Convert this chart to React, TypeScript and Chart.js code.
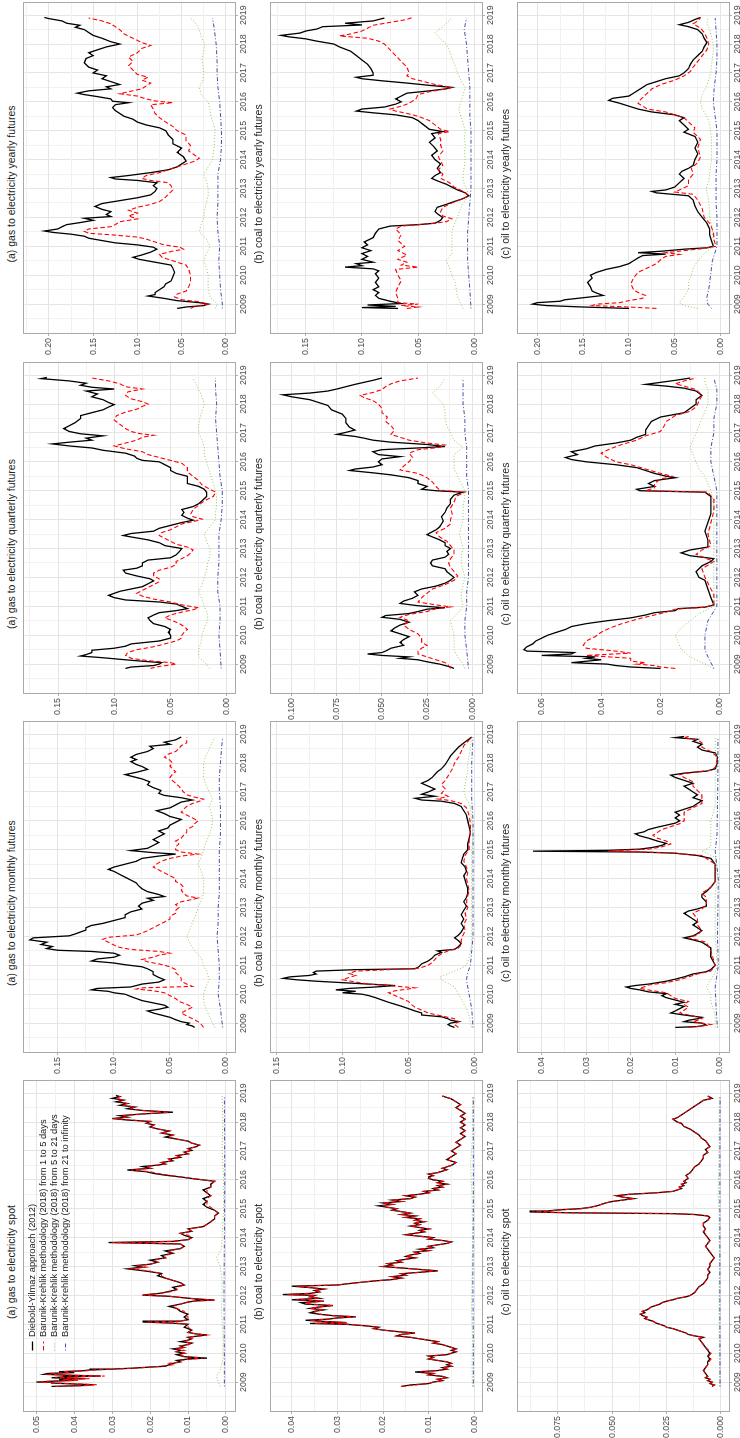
import React, { useEffect, useRef } from "react";
import { Chart, registerables } from "chart.js";
Chart.register(...registerables);

type P = [number, number];
type R3 = [number, number, number];

// ---------------- axis / labels ----------------
const YEARS = [2009, 2010, 2011, 2012, 2013, 2014, 2015, 2016, 2017, 2018, 2019];
const TIME_MIN = 2008.0;
const TIME_MAX = 2019.42;

const SERIES_NAMES = [
  "Diebold-Yilmaz approach (2012)",
  "Barunik-Krehlik methodology (2018) from 1 to 5 days",
  "Barunik-Krehlik methodology (2018) from 5 to 21 days",
  "Barunik-Krehlik methodology (2018) from 21 to infinity",
];
const SERIES_COLORS = ["#000000", "#ff0000", "#86c44a", "#2e3c9e"];
const SERIES_WIDTHS = [1.3, 1.1, 0.9, 0.9];
const SERIES_DASHES: number[][] = [[], [4.5, 2.5], [1, 2], [1, 2, 4, 2]];

const TICKS_GAS_SPOT = [0, 0.01, 0.02, 0.03, 0.04, 0.05];
const TICKS_COAL_SPOT = [0, 0.01, 0.02, 0.03, 0.04];
const TICKS_OIL_SPOT = [0, 0.025, 0.05, 0.075];
const TICKS_GAS_MONTHLY = [0, 0.05, 0.1, 0.15];
const TICKS_COAL_MONTHLY = [0, 0.05, 0.1, 0.15];
const TICKS_OIL_MONTHLY = [0, 0.01, 0.02, 0.03, 0.04];
const TICKS_GAS_QUARTERLY = [0, 0.05, 0.1, 0.15];
const TICKS_COAL_QUARTERLY = [0, 0.025, 0.05, 0.075, 0.1];
const TICKS_OIL_QUARTERLY = [0, 0.02, 0.04, 0.06];
const TICKS_GAS_YEARLY = [0, 0.05, 0.1, 0.15, 0.2];
const TICKS_COAL_YEARLY = [0, 0.05, 0.1, 0.15];
const TICKS_OIL_YEARLY = [0, 0.05, 0.1, 0.15, 0.2];

// ---------------- SPOT (rows: time, Diebold-Yilmaz, BK 1-5 days) ----------------
const gasSpotRows: R3[] = [
  [2008.85,0.046,0.045],[2008.88,0.038,0.037],[2008.91,0.035,0.034],[2008.94,0.041,0.04],[2008.97,0.046,0.045],
  [2009.0,0.05,0.049],[2009.03,0.046,0.047],[2009.06,0.04,0.039],[2009.09,0.044,0.043],[2009.12,0.037,0.036],
  [2009.15,0.046,0.045],[2009.18,0.043,0.041],[2009.21,0.033,0.032],[2009.24,0.042,0.041],[2009.27,0.048,0.047],
  [2009.3,0.047,0.046],[2009.33,0.04,0.041],[2009.36,0.044,0.043],[2009.39,0.038,0.037],[2009.42,0.036,0.035],
  [2009.45,0.03,0.03],[2009.48,0.025,0.024],[2009.52,0.02,0.02],[2009.55,0.016,0.017],[2009.6,0.015,0.014],
  [2009.65,0.014,0.015],[2009.7,0.012,0.012],[2009.75,0.013,0.012],[2009.8,0.01,0.009],[2009.83,0.005,0.006],
  [2009.88,0.011,0.011],[2009.95,0.013,0.012],[2010.0,0.011,0.011],[2010.05,0.013,0.013],[2010.1,0.012,0.011],
  [2010.15,0.014,0.013],[2010.2,0.011,0.011],[2010.25,0.012,0.012],[2010.3,0.01,0.01],[2010.35,0.009,0.009],
  [2010.4,0.012,0.011],[2010.45,0.01,0.01],[2010.5,0.009,0.009],[2010.55,0.01,0.01],[2010.6,0.007,0.007],
  [2010.63,0.005,0.005],[2010.67,0.008,0.008],[2010.72,0.01,0.01],[2010.8,0.009,0.009],[2010.9,0.011,0.01],
  [2011.0,0.01,0.01],[2011.04,0.014,0.013],[2011.08,0.022,0.021],[2011.11,0.012,0.012],[2011.16,0.01,0.01],
  [2011.25,0.011,0.01],[2011.35,0.01,0.011],[2011.45,0.012,0.011],[2011.55,0.013,0.013],[2011.62,0.015,0.014],
  [2011.7,0.012,0.012],[2011.77,0.01,0.01],[2011.81,0.008,0.008],[2011.84,0.003,0.003],[2011.88,0.008,0.008],
  [2011.93,0.012,0.012],[2011.97,0.015,0.015],[2012.01,0.022,0.022],[2012.04,0.02,0.019],[2012.08,0.017,0.017],
  [2012.14,0.015,0.014],[2012.2,0.013,0.013],[2012.28,0.014,0.013],[2012.36,0.011,0.011],[2012.44,0.012,0.012],
  [2012.52,0.014,0.014],[2012.6,0.016,0.016],[2012.68,0.018,0.017],[2012.76,0.017,0.017],[2012.84,0.021,0.02],
  [2012.92,0.026,0.025],[2012.98,0.022,0.021],[2013.03,0.024,0.023],[2013.08,0.02,0.02],[2013.15,0.018,0.018],
  [2013.22,0.02,0.019],[2013.3,0.016,0.016],[2013.38,0.017,0.016],[2013.46,0.014,0.014],[2013.54,0.016,0.015],
  [2013.62,0.012,0.012],[2013.7,0.011,0.011],[2013.78,0.012,0.012],[2013.83,0.031,0.03],[2013.87,0.014,0.014],
  [2013.93,0.01,0.01],[2014.0,0.009,0.009],[2014.08,0.011,0.01],[2014.15,0.012,0.012],[2014.22,0.009,0.009],
  [2014.3,0.01,0.01],[2014.38,0.006,0.006],[2014.46,0.005,0.005],[2014.55,0.004,0.004],[2014.65,0.003,0.003],
  [2014.75,0.003,0.003],[2014.85,0.002,0.002],[2014.95,0.003,0.003],[2015.05,0.005,0.004],[2015.15,0.006,0.005],
  [2015.25,0.005,0.005],[2015.35,0.006,0.005],[2015.45,0.004,0.004],[2015.55,0.005,0.005],[2015.65,0.006,0.005],
  [2015.75,0.004,0.004],[2015.85,0.004,0.004],[2015.95,0.003,0.003],[2016.03,0.008,0.008],[2016.1,0.012,0.012],
  [2016.16,0.016,0.015],[2016.22,0.019,0.018],[2016.28,0.021,0.02],[2016.34,0.026,0.025],[2016.4,0.02,0.02],
  [2016.46,0.022,0.021],[2016.51,0.018,0.018],[2016.55,0.016,0.016],[2016.6,0.017,0.017],[2016.66,0.014,0.014],
  [2016.72,0.015,0.015],[2016.78,0.012,0.012],[2016.84,0.013,0.013],[2016.9,0.01,0.01],[2016.96,0.011,0.011],
  [2017.02,0.009,0.009],[2017.08,0.01,0.01],[2017.14,0.008,0.008],[2017.2,0.007,0.007],[2017.27,0.009,0.009],
  [2017.34,0.01,0.01],[2017.41,0.013,0.013],[2017.48,0.016,0.015],[2017.55,0.014,0.014],[2017.62,0.017,0.017],
  [2017.69,0.015,0.015],[2017.76,0.018,0.018],[2017.83,0.02,0.02],[2017.9,0.019,0.019],[2017.96,0.021,0.021],
  [2018.02,0.02,0.02],[2018.07,0.026,0.025],[2018.12,0.03,0.029],[2018.17,0.026,0.026],[2018.22,0.028,0.027],
  [2018.28,0.022,0.022],[2018.34,0.014,0.015],[2018.4,0.022,0.022],[2018.46,0.026,0.025],[2018.52,0.024,0.024],
  [2018.58,0.028,0.027],[2018.64,0.026,0.026],[2018.7,0.029,0.028],[2018.76,0.027,0.027],[2018.82,0.03,0.029],
  [2018.88,0.028,0.028],[2018.92,0.029,0.029],
];
const gasSpotBK2: P[] = [[2008.85,0.0015],[2009.0,0.002],[2009.2,0.0025],[2009.4,0.0015],[2009.8,0.0008],[2010.5,0.0007],[2011.5,0.0012],[2012.0,0.001],[2012.5,0.001],[2013.0,0.0015],[2013.3,0.0025],[2013.6,0.0012],[2014.0,0.001],[2015.0,0.0006],[2016.0,0.0006],[2017.0,0.001],[2018.0,0.0008],[2018.9,0.001]];
const gasSpotBK3: P[] = [[2008.85,0.0004],[2010.0,0.0004],[2012.0,0.0005],[2014.0,0.0004],[2016.0,0.0003],[2018.9,0.0004]];

const coalSpotRows: R3[] = [
  [2008.85,0.016,0.016],[2008.9,0.014,0.013],[2008.95,0.01,0.01],[2009.0,0.009,0.009],[2009.05,0.007,0.007],
  [2009.1,0.008,0.008],[2009.15,0.006,0.006],[2009.2,0.007,0.007],[2009.25,0.01,0.01],[2009.3,0.009,0.009],
  [2009.35,0.013,0.012],[2009.4,0.008,0.008],[2009.45,0.006,0.006],[2009.5,0.007,0.007],[2009.55,0.005,0.005],
  [2009.6,0.006,0.006],[2009.65,0.005,0.005],[2009.7,0.006,0.006],[2009.75,0.008,0.008],[2009.8,0.01,0.01],
  [2009.85,0.009,0.009],[2009.9,0.01,0.01],[2009.95,0.006,0.006],[2010.0,0.005,0.005],[2010.05,0.004,0.004],
  [2010.1,0.005,0.005],[2010.15,0.004,0.004],[2010.2,0.005,0.005],[2010.25,0.006,0.006],[2010.3,0.007,0.007],
  [2010.35,0.009,0.009],[2010.4,0.008,0.008],[2010.45,0.01,0.01],[2010.5,0.012,0.012],[2010.55,0.014,0.014],
  [2010.6,0.017,0.017],[2010.65,0.016,0.016],[2010.7,0.013,0.013],[2010.75,0.017,0.017],[2010.8,0.02,0.02],
  [2010.85,0.022,0.022],[2010.9,0.021,0.021],[2010.95,0.024,0.024],[2011.0,0.028,0.027],[2011.03,0.036,0.035],
  [2011.06,0.028,0.028],[2011.1,0.033,0.033],[2011.14,0.037,0.036],[2011.18,0.032,0.032],[2011.22,0.03,0.03],
  [2011.26,0.026,0.026],[2011.3,0.031,0.031],[2011.35,0.034,0.034],[2011.4,0.036,0.035],[2011.45,0.035,0.035],
  [2011.5,0.033,0.033],[2011.55,0.036,0.036],[2011.6,0.034,0.034],[2011.65,0.031,0.031],[2011.7,0.037,0.036],
  [2011.75,0.038,0.037],[2011.8,0.033,0.033],[2011.85,0.04,0.039],[2011.9,0.034,0.034],[2011.95,0.036,0.036],
  [2012.0,0.035,0.035],[2012.03,0.042,0.041],[2012.07,0.036,0.036],[2012.12,0.034,0.034],[2012.17,0.035,0.035],
  [2012.22,0.033,0.033],[2012.27,0.036,0.036],[2012.32,0.04,0.039],[2012.36,0.03,0.03],[2012.4,0.028,0.028],
  [2012.45,0.025,0.025],[2012.5,0.022,0.022],[2012.55,0.018,0.018],[2012.6,0.016,0.016],[2012.65,0.018,0.018],
  [2012.7,0.015,0.015],[2012.75,0.016,0.016],[2012.8,0.012,0.012],[2012.85,0.008,0.008],[2012.9,0.012,0.012],
  [2012.95,0.016,0.016],[2013.0,0.02,0.02],[2013.05,0.018,0.018],[2013.1,0.019,0.019],[2013.15,0.016,0.016],
  [2013.2,0.017,0.017],[2013.25,0.015,0.015],[2013.3,0.013,0.013],[2013.35,0.015,0.015],[2013.4,0.014,0.014],
  [2013.45,0.012,0.012],[2013.5,0.013,0.013],[2013.55,0.01,0.01],[2013.6,0.012,0.012],[2013.65,0.009,0.009],
  [2013.7,0.01,0.01],[2013.75,0.008,0.008],[2013.8,0.006,0.006],[2013.85,0.005,0.005],[2013.9,0.007,0.007],
  [2013.95,0.01,0.01],[2014.0,0.009,0.009],[2014.05,0.012,0.012],[2014.1,0.015,0.015],[2014.15,0.013,0.013],
  [2014.2,0.011,0.011],[2014.25,0.012,0.012],[2014.3,0.01,0.01],[2014.35,0.012,0.012],[2014.4,0.014,0.014],
  [2014.45,0.012,0.012],[2014.5,0.013,0.013],[2014.55,0.011,0.011],[2014.6,0.013,0.013],[2014.65,0.012,0.012],
  [2014.7,0.015,0.015],[2014.75,0.013,0.013],[2014.8,0.016,0.016],[2014.85,0.014,0.014],[2014.9,0.016,0.016],
  [2014.95,0.018,0.018],[2015.0,0.017,0.017],[2015.05,0.019,0.019],[2015.1,0.021,0.02],[2015.15,0.018,0.018],
  [2015.2,0.02,0.02],[2015.25,0.016,0.016],[2015.3,0.018,0.018],[2015.35,0.014,0.014],[2015.4,0.013,0.013],
  [2015.45,0.015,0.015],[2015.5,0.012,0.012],[2015.55,0.01,0.01],[2015.6,0.011,0.011],[2015.65,0.008,0.008],
  [2015.7,0.009,0.009],[2015.75,0.007,0.007],[2015.8,0.008,0.008],[2015.85,0.006,0.006],[2015.9,0.008,0.008],
  [2015.95,0.007,0.007],[2016.0,0.009,0.009],[2016.05,0.01,0.01],[2016.1,0.01,0.009],[2016.15,0.009,0.009],
  [2016.2,0.01,0.01],[2016.25,0.008,0.008],[2016.3,0.007,0.007],[2016.35,0.006,0.006],[2016.4,0.007,0.007],
  [2016.45,0.006,0.006],[2016.5,0.005,0.005],[2016.6,0.004,0.004],[2016.7,0.006,0.006],[2016.8,0.005,0.005],
  [2016.9,0.004,0.004],[2017.0,0.005,0.005],[2017.1,0.004,0.004],[2017.2,0.003,0.003],[2017.3,0.004,0.004],
  [2017.4,0.003,0.003],[2017.5,0.002,0.002],[2017.6,0.003,0.003],[2017.7,0.002,0.002],[2017.8,0.003,0.003],
  [2017.9,0.002,0.002],[2018.0,0.003,0.003],[2018.1,0.002,0.002],[2018.2,0.003,0.003],[2018.3,0.002,0.002],
  [2018.4,0.003,0.003],[2018.5,0.004,0.004],[2018.6,0.003,0.003],[2018.7,0.004,0.004],[2018.8,0.005,0.005],
  [2018.85,0.006,0.006],[2018.9,0.007,0.007],
];
const coalSpotBK2: P[] = [[2008.85,0.0004],[2009.5,0.0005],[2010.5,0.0004],[2011.5,0.0006],[2012.5,0.0005],[2013.5,0.0004],[2014.5,0.0004],[2015.5,0.0005],[2016.5,0.0008],[2017.5,0.0004],[2018.9,0.0004]];
const coalSpotBK3: P[] = [[2008.85,0.0002],[2010.5,0.0002],[2012.5,0.0003],[2014.5,0.0002],[2016.5,0.0002],[2018.9,0.0002]];

const oilSpotRows: R3[] = [
  [2008.85,0.004,0.004],[2008.9,0.003,0.003],[2008.95,0.005,0.005],[2009.0,0.004,0.004],[2009.05,0.006,0.006],
  [2009.1,0.005,0.005],[2009.15,0.007,0.007],[2009.2,0.006,0.006],[2009.3,0.007,0.007],[2009.4,0.008,0.008],
  [2009.5,0.007,0.007],[2009.6,0.006,0.006],[2009.7,0.006,0.0055],[2009.8,0.005,0.0045],[2009.9,0.006,0.0055],
  [2010.0,0.005,0.0045],[2010.1,0.006,0.0055],[2010.2,0.007,0.007],[2010.3,0.008,0.008],[2010.4,0.009,0.009],
  [2010.5,0.01,0.01],[2010.55,0.008,0.008],[2010.6,0.012,0.012],[2010.65,0.015,0.015],[2010.7,0.016,0.016],
  [2010.75,0.018,0.018],[2010.8,0.02,0.02],[2010.85,0.022,0.022],[2010.9,0.025,0.025],[2010.95,0.026,0.026],
  [2011.0,0.028,0.028],[2011.05,0.03,0.03],[2011.1,0.031,0.031],[2011.15,0.033,0.033],[2011.2,0.035,0.035],
  [2011.25,0.034,0.034],[2011.3,0.036,0.036],[2011.35,0.037,0.037],[2011.4,0.035,0.035],[2011.45,0.036,0.036],
  [2011.5,0.034,0.034],[2011.55,0.033,0.033],[2011.6,0.032,0.032],[2011.65,0.03,0.03],[2011.7,0.028,0.028],
  [2011.75,0.027,0.027],[2011.8,0.025,0.025],[2011.85,0.022,0.022],[2011.9,0.02,0.02],[2011.95,0.016,0.016],
  [2012.0,0.014,0.014],[2012.1,0.012,0.012],[2012.2,0.011,0.011],[2012.3,0.01,0.01],[2012.4,0.008,0.008],
  [2012.5,0.007,0.007],[2012.6,0.006,0.006],[2012.7,0.006,0.006],[2012.8,0.005,0.005],[2012.9,0.006,0.006],
  [2013.0,0.005,0.005],[2013.1,0.005,0.005],[2013.2,0.004,0.004],[2013.3,0.003,0.003],[2013.4,0.004,0.004],
  [2013.5,0.005,0.005],[2013.6,0.006,0.006],[2013.7,0.007,0.007],[2013.8,0.006,0.006],[2013.9,0.005,0.005],
  [2014.0,0.006,0.006],[2014.1,0.007,0.007],[2014.2,0.008,0.008],[2014.3,0.007,0.007],[2014.4,0.008,0.008],
  [2014.5,0.008,0.008],[2014.6,0.006,0.006],[2014.7,0.005,0.005],[2014.75,0.006,0.006],[2014.8,0.012,0.012],
  [2014.83,0.022,0.021],[2014.86,0.07,0.068],[2014.89,0.088,0.087],[2014.92,0.08,0.079],[2014.96,0.075,0.074],
  [2015.0,0.065,0.064],[2015.05,0.06,0.06],[2015.1,0.057,0.057],[2015.15,0.055,0.055],[2015.2,0.053,0.053],
  [2015.25,0.05,0.05],[2015.3,0.045,0.045],[2015.35,0.04,0.04],[2015.4,0.045,0.045],[2015.45,0.048,0.048],
  [2015.5,0.042,0.042],[2015.55,0.03,0.03],[2015.6,0.022,0.022],[2015.65,0.02,0.02],[2015.7,0.018,0.018],
  [2015.75,0.019,0.019],[2015.8,0.017,0.017],[2015.85,0.018,0.018],[2015.9,0.016,0.016],[2015.95,0.017,0.017],
  [2016.05,0.015,0.015],[2016.15,0.016,0.016],[2016.25,0.014,0.014],[2016.35,0.013,0.013],[2016.45,0.012,0.012],
  [2016.55,0.01,0.01],[2016.65,0.009,0.009],[2016.75,0.008,0.008],[2016.85,0.008,0.008],[2016.95,0.006,0.006],
  [2017.05,0.007,0.007],[2017.15,0.005,0.005],[2017.25,0.006,0.006],[2017.35,0.007,0.007],[2017.45,0.009,0.009],
  [2017.55,0.01,0.01],[2017.65,0.012,0.012],[2017.75,0.014,0.014],[2017.85,0.017,0.017],[2017.95,0.018,0.018],
  [2018.0,0.02,0.02],[2018.05,0.021,0.021],[2018.1,0.022,0.022],[2018.15,0.02,0.02],[2018.25,0.018,0.018],
  [2018.35,0.016,0.016],[2018.45,0.014,0.014],[2018.55,0.012,0.012],[2018.65,0.01,0.01],[2018.75,0.008,0.008],
  [2018.82,0.004,0.004],[2018.9,0.006,0.006],
];
const oilSpotBK2: P[] = [[2008.85,0.0005],[2010.0,0.0006],[2011.5,0.0008],[2013.0,0.0006],[2014.9,0.0008],[2015.5,0.0012],[2016.5,0.0009],[2018.0,0.0007],[2018.9,0.0006]];
const oilSpotBK3: P[] = [[2008.85,0.0003],[2011.5,0.0004],[2014.9,0.0004],[2016.5,0.0004],[2018.9,0.0003]];

// ---------------- MONTHLY ----------------
const gasMonthlyDY: P[] = [[2008.85,0.028],[2008.9,0.03],[2008.95,0.035],[2009.0,0.033],[2009.05,0.04],[2009.12,0.045],[2009.2,0.05],[2009.28,0.058],[2009.35,0.065],[2009.42,0.07],[2009.48,0.06],[2009.55,0.052],[2009.62,0.055],[2009.7,0.065],[2009.78,0.075],[2009.85,0.08],[2009.92,0.085],[2010.0,0.09],[2010.05,0.1],[2010.1,0.105],[2010.15,0.12],[2010.2,0.115],[2010.25,0.085],[2010.3,0.08],[2010.35,0.075],[2010.42,0.06],[2010.5,0.055],[2010.58,0.06],[2010.68,0.065],[2010.78,0.065],[2010.88,0.07],[2010.95,0.075],[2011.02,0.09],[2011.08,0.1],[2011.15,0.12],[2011.22,0.115],[2011.28,0.1],[2011.35,0.095],[2011.42,0.1],[2011.48,0.12],[2011.52,0.15],[2011.58,0.16],[2011.65,0.155],[2011.72,0.165],[2011.8,0.16],[2011.88,0.175],[2011.95,0.172],[2012.02,0.14],[2012.08,0.135],[2012.15,0.13],[2012.22,0.125],[2012.3,0.125],[2012.38,0.12],[2012.45,0.11],[2012.55,0.1],[2012.65,0.09],[2012.75,0.09],[2012.85,0.085],[2012.95,0.075],[2013.05,0.078],[2013.15,0.075],[2013.25,0.065],[2013.32,0.07],[2013.38,0.055],[2013.45,0.06],[2013.55,0.07],[2013.65,0.075],[2013.75,0.078],[2013.85,0.08],[2013.95,0.085],[2014.05,0.09],[2014.15,0.095],[2014.25,0.1],[2014.32,0.105],[2014.4,0.1],[2014.5,0.09],[2014.6,0.08],[2014.7,0.075],[2014.78,0.06],[2014.85,0.045],[2014.9,0.065],[2014.97,0.085],[2015.05,0.07],[2015.15,0.065],[2015.25,0.06],[2015.35,0.065],[2015.45,0.06],[2015.55,0.055],[2015.65,0.06],[2015.75,0.052],[2015.85,0.05],[2015.95,0.045],[2016.05,0.04],[2016.15,0.05],[2016.25,0.055],[2016.35,0.062],[2016.45,0.05],[2016.55,0.045],[2016.65,0.04],[2016.72,0.03],[2016.8,0.04],[2016.88,0.055],[2016.95,0.06],[2017.05,0.058],[2017.15,0.065],[2017.25,0.07],[2017.35,0.068],[2017.45,0.075],[2017.55,0.085],[2017.6,0.09],[2017.68,0.08],[2017.78,0.07],[2017.88,0.075],[2017.95,0.08],[2018.05,0.085],[2018.12,0.08],[2018.2,0.085],[2018.3,0.08],[2018.4,0.07],[2018.5,0.065],[2018.58,0.068],[2018.65,0.05],[2018.72,0.055],[2018.8,0.045],[2018.9,0.04]];
const gasMonthlyBK1: P[] = [[2008.85,0.02],[2008.95,0.022],[2009.05,0.025],[2009.15,0.03],[2009.25,0.035],[2009.35,0.04],[2009.45,0.035],[2009.55,0.03],[2009.65,0.035],[2009.75,0.042],[2009.85,0.045],[2009.95,0.05],[2010.05,0.055],[2010.12,0.065],[2010.18,0.08],[2010.22,0.075],[2010.27,0.03],[2010.35,0.035],[2010.45,0.04],[2010.55,0.04],[2010.65,0.042],[2010.75,0.045],[2010.85,0.045],[2010.95,0.05],[2011.05,0.06],[2011.12,0.07],[2011.2,0.075],[2011.28,0.065],[2011.35,0.06],[2011.42,0.05],[2011.48,0.06],[2011.55,0.085],[2011.62,0.095],[2011.7,0.1],[2011.8,0.105],[2011.9,0.11],[2011.97,0.105],[2012.05,0.08],[2012.12,0.075],[2012.2,0.07],[2012.3,0.065],[2012.4,0.06],[2012.5,0.055],[2012.6,0.05],[2012.7,0.05],[2012.8,0.045],[2012.9,0.045],[2013.0,0.042],[2013.1,0.045],[2013.2,0.04],[2013.28,0.03],[2013.33,0.025],[2013.4,0.035],[2013.5,0.038],[2013.6,0.04],[2013.7,0.038],[2013.8,0.04],[2013.9,0.045],[2014.0,0.045],[2014.1,0.05],[2014.2,0.055],[2014.3,0.06],[2014.4,0.065],[2014.5,0.062],[2014.6,0.058],[2014.7,0.05],[2014.78,0.04],[2014.85,0.025],[2014.92,0.04],[2015.0,0.045],[2015.1,0.045],[2015.2,0.042],[2015.3,0.045],[2015.4,0.04],[2015.5,0.038],[2015.6,0.035],[2015.7,0.035],[2015.8,0.03],[2015.9,0.028],[2016.0,0.025],[2016.1,0.03],[2016.2,0.035],[2016.3,0.04],[2016.4,0.038],[2016.5,0.035],[2016.6,0.03],[2016.7,0.022],[2016.75,0.02],[2016.82,0.028],[2016.9,0.035],[2017.0,0.038],[2017.1,0.04],[2017.2,0.042],[2017.3,0.045],[2017.4,0.048],[2017.5,0.05],[2017.6,0.048],[2017.7,0.045],[2017.8,0.048],[2017.9,0.05],[2018.0,0.048],[2018.1,0.05],[2018.2,0.055],[2018.3,0.052],[2018.4,0.045],[2018.5,0.042],[2018.6,0.04],[2018.7,0.035],[2018.8,0.035],[2018.9,0.035]];
const gasMonthlyBK2: P[] = [[2008.85,0.01],[2009.0,0.012],[2009.25,0.015],[2009.5,0.018],[2009.75,0.02],[2010.0,0.02],[2010.25,0.018],[2010.5,0.015],[2010.75,0.017],[2011.0,0.02],[2011.25,0.022],[2011.5,0.028],[2011.75,0.032],[2012.0,0.035],[2012.25,0.032],[2012.5,0.03],[2012.75,0.027],[2013.0,0.025],[2013.25,0.022],[2013.5,0.02],[2013.75,0.02],[2014.0,0.02],[2014.25,0.022],[2014.5,0.025],[2014.75,0.022],[2015.0,0.02],[2015.25,0.018],[2015.5,0.015],[2015.75,0.013],[2016.0,0.012],[2016.25,0.013],[2016.5,0.015],[2016.75,0.012],[2017.0,0.015],[2017.25,0.018],[2017.5,0.02],[2017.75,0.02],[2018.0,0.02],[2018.25,0.018],[2018.5,0.015],[2018.75,0.012],[2018.9,0.01]];
const gasMonthlyBK3: P[] = [[2008.85,0.003],[2009.5,0.005],[2010.0,0.007],[2010.5,0.006],[2011.0,0.006],[2011.5,0.007],[2012.0,0.008],[2012.5,0.007],[2013.0,0.007],[2013.5,0.006],[2014.0,0.006],[2014.5,0.006],[2015.0,0.006],[2015.5,0.005],[2016.0,0.005],[2016.5,0.005],[2017.0,0.006],[2017.5,0.006],[2018.0,0.005],[2018.5,0.004],[2018.9,0.003]];

const coalMonthlyDY: P[] = [[2008.85,0.015],[2008.9,0.018],[2008.95,0.02],[2009.0,0.018],[2009.05,0.012],[2009.1,0.018],[2009.15,0.02],[2009.22,0.025],[2009.28,0.04],[2009.35,0.04],[2009.42,0.045],[2009.5,0.05],[2009.58,0.055],[2009.65,0.06],[2009.72,0.065],[2009.8,0.07],[2009.88,0.075],[2009.95,0.08],[2010.0,0.085],[2010.05,0.1],[2010.1,0.09],[2010.15,0.105],[2010.2,0.095],[2010.25,0.075],[2010.3,0.06],[2010.35,0.08],[2010.4,0.1],[2010.45,0.12],[2010.5,0.135],[2010.55,0.145],[2010.6,0.14],[2010.65,0.125],[2010.7,0.12],[2010.75,0.122],[2010.8,0.12],[2010.85,0.09],[2010.88,0.045],[2010.95,0.042],[2011.05,0.04],[2011.15,0.035],[2011.25,0.032],[2011.35,0.03],[2011.45,0.025],[2011.5,0.028],[2011.55,0.015],[2011.65,0.012],[2011.75,0.01],[2011.85,0.012],[2011.95,0.015],[2012.05,0.012],[2012.15,0.01],[2012.3,0.008],[2012.45,0.01],[2012.6,0.008],[2012.75,0.01],[2012.9,0.008],[2013.05,0.006],[2013.2,0.008],[2013.35,0.006],[2013.5,0.005],[2013.65,0.005],[2013.8,0.006],[2013.95,0.007],[2014.1,0.008],[2014.25,0.006],[2014.4,0.007],[2014.55,0.01],[2014.7,0.009],[2014.85,0.008],[2015.0,0.005],[2015.2,0.005],[2015.4,0.004],[2015.6,0.003],[2015.8,0.004],[2016.0,0.005],[2016.2,0.006],[2016.35,0.008],[2016.5,0.01],[2016.6,0.015],[2016.68,0.025],[2016.72,0.04],[2016.78,0.045],[2016.85,0.03],[2016.92,0.04],[2017.0,0.035],[2017.1,0.03],[2017.2,0.035],[2017.3,0.04],[2017.4,0.035],[2017.5,0.032],[2017.6,0.03],[2017.7,0.028],[2017.8,0.025],[2017.95,0.022],[2018.1,0.02],[2018.25,0.018],[2018.4,0.015],[2018.55,0.012],[2018.7,0.008],[2018.8,0.005],[2018.9,0.002]];
const coalMonthlyBK1: P[] = [[2008.85,0.012],[2008.95,0.015],[2009.05,0.012],[2009.15,0.015],[2009.25,0.025],[2009.35,0.035],[2009.45,0.04],[2009.55,0.045],[2009.65,0.048],[2009.75,0.05],[2009.85,0.055],[2009.95,0.06],[2010.05,0.065],[2010.12,0.06],[2010.18,0.05],[2010.22,0.045],[2010.28,0.06],[2010.35,0.08],[2010.42,0.09],[2010.5,0.1],[2010.58,0.095],[2010.65,0.09],[2010.72,0.095],[2010.8,0.09],[2010.86,0.06],[2010.9,0.042],[2011.0,0.035],[2011.1,0.032],[2011.2,0.03],[2011.3,0.028],[2011.4,0.025],[2011.5,0.02],[2011.6,0.012],[2011.7,0.01],[2011.85,0.01],[2012.0,0.009],[2012.2,0.007],[2012.4,0.008],[2012.6,0.006],[2012.8,0.007],[2013.0,0.005],[2013.2,0.006],[2013.4,0.005],[2013.6,0.004],[2013.8,0.005],[2014.0,0.006],[2014.2,0.005],[2014.4,0.006],[2014.6,0.008],[2014.8,0.007],[2015.0,0.004],[2015.3,0.004],[2015.6,0.003],[2015.9,0.003],[2016.2,0.004],[2016.45,0.006],[2016.6,0.01],[2016.7,0.018],[2016.76,0.028],[2016.85,0.02],[2016.95,0.025],[2017.1,0.022],[2017.25,0.025],[2017.4,0.022],[2017.55,0.02],[2017.7,0.018],[2017.85,0.016],[2018.0,0.015],[2018.2,0.012],[2018.4,0.01],[2018.6,0.008],[2018.75,0.005],[2018.9,0.002]];
const coalMonthlyBK2: P[] = [[2008.85,0.002],[2009.0,0.003],[2009.25,0.004],[2009.5,0.006],[2009.75,0.009],[2010.0,0.012],[2010.25,0.015],[2010.5,0.025],[2010.6,0.026],[2010.75,0.018],[2010.9,0.01],[2011.0,0.006],[2011.25,0.004],[2011.5,0.003],[2011.75,0.002],[2012.0,0.002],[2012.5,0.002],[2013.0,0.002],[2013.5,0.002],[2014.0,0.002],[2014.5,0.002],[2015.0,0.002],[2015.5,0.001],[2016.0,0.002],[2016.5,0.003],[2016.75,0.006],[2017.0,0.008],[2017.25,0.007],[2017.5,0.006],[2017.75,0.005],[2018.0,0.005],[2018.5,0.003],[2018.9,0.002]];
const coalMonthlyBK3: P[] = [[2008.85,0.001],[2009.5,0.002],[2010.0,0.004],[2010.5,0.006],[2010.75,0.005],[2011.0,0.003],[2011.5,0.002],[2012.0,0.001],[2013.0,0.001],[2014.0,0.001],[2015.0,0.001],[2016.0,0.001],[2016.75,0.002],[2017.5,0.002],[2018.0,0.002],[2018.9,0.001]];

const oilMonthlyDY: P[] = [[2008.85,0.01],[2008.88,0.005],[2008.93,0.003],[2009.0,0.004],[2009.05,0.008],[2009.1,0.007],[2009.15,0.005],[2009.2,0.004],[2009.28,0.008],[2009.35,0.011],[2009.42,0.01],[2009.5,0.009],[2009.58,0.008],[2009.65,0.01],[2009.72,0.008],[2009.8,0.01],[2009.88,0.012],[2009.95,0.013],[2010.02,0.012],[2010.08,0.016],[2010.15,0.018],[2010.2,0.02],[2010.25,0.021],[2010.3,0.019],[2010.35,0.016],[2010.4,0.014],[2010.45,0.012],[2010.52,0.01],[2010.6,0.008],[2010.7,0.006],[2010.78,0.003],[2010.85,0.002],[2011.0,0.001],[2011.3,0.002],[2011.6,0.002],[2011.8,0.004],[2011.88,0.006],[2011.95,0.008],[2012.02,0.006],[2012.1,0.005],[2012.2,0.004],[2012.3,0.005],[2012.4,0.006],[2012.5,0.005],[2012.6,0.006],[2012.7,0.007],[2012.8,0.008],[2012.88,0.007],[2012.95,0.005],[2013.05,0.003],[2013.2,0.003],[2013.35,0.004],[2013.45,0.004],[2013.55,0.003],[2013.7,0.002],[2013.9,0.001],[2014.2,0.001],[2014.5,0.001],[2014.7,0.002],[2014.8,0.005],[2014.88,0.01],[2014.92,0.018],[2014.95,0.042],[2014.98,0.025],[2015.02,0.018],[2015.08,0.015],[2015.15,0.013],[2015.22,0.012],[2015.3,0.014],[2015.4,0.016],[2015.48,0.018],[2015.55,0.019],[2015.62,0.017],[2015.7,0.016],[2015.78,0.014],[2015.85,0.012],[2015.92,0.01],[2016.0,0.009],[2016.1,0.01],[2016.2,0.009],[2016.3,0.01],[2016.4,0.008],[2016.5,0.006],[2016.6,0.005],[2016.7,0.004],[2016.8,0.006],[2016.9,0.005],[2017.0,0.006],[2017.1,0.007],[2017.2,0.008],[2017.3,0.006],[2017.4,0.008],[2017.5,0.01],[2017.58,0.011],[2017.65,0.008],[2017.72,0.003],[2017.8,0.001],[2018.0,0.0005],[2018.2,0.0005],[2018.35,0.001],[2018.45,0.004],[2018.55,0.005],[2018.65,0.004],[2018.75,0.006],[2018.82,0.005],[2018.88,0.01],[2018.92,0.008]];
const oilMonthlyBK1: P[] = [[2008.85,0.007],[2008.9,0.004],[2008.95,0.002],[2009.05,0.006],[2009.15,0.004],[2009.25,0.006],[2009.35,0.009],[2009.45,0.008],[2009.55,0.007],[2009.65,0.008],[2009.75,0.007],[2009.85,0.01],[2009.95,0.011],[2010.05,0.012],[2010.12,0.015],[2010.2,0.018],[2010.25,0.017],[2010.32,0.016],[2010.4,0.012],[2010.5,0.009],[2010.6,0.007],[2010.7,0.005],[2010.8,0.002],[2011.0,0.001],[2011.5,0.002],[2011.8,0.003],[2011.95,0.007],[2012.05,0.005],[2012.2,0.004],[2012.4,0.005],[2012.6,0.005],[2012.8,0.006],[2012.95,0.004],[2013.1,0.003],[2013.35,0.003],[2013.5,0.004],[2013.7,0.002],[2013.9,0.001],[2014.5,0.001],[2014.8,0.004],[2014.9,0.012],[2014.95,0.025],[2014.98,0.022],[2015.02,0.016],[2015.1,0.013],[2015.2,0.011],[2015.3,0.012],[2015.4,0.014],[2015.5,0.015],[2015.6,0.014],[2015.7,0.013],[2015.8,0.011],[2015.9,0.009],[2016.0,0.008],[2016.15,0.008],[2016.3,0.008],[2016.45,0.006],[2016.6,0.004],[2016.75,0.004],[2016.9,0.004],[2017.05,0.005],[2017.2,0.006],[2017.35,0.006],[2017.5,0.008],[2017.6,0.009],[2017.68,0.006],[2017.75,0.002],[2017.85,0.001],[2018.2,0.0005],[2018.4,0.002],[2018.55,0.004],[2018.7,0.004],[2018.8,0.005],[2018.88,0.008],[2018.92,0.007]];
const oilMonthlyBK2: P[] = [[2008.85,0.001],[2009.25,0.001],[2009.75,0.002],[2010.0,0.002],[2010.25,0.003],[2010.5,0.002],[2010.75,0.001],[2011.0,0.0005],[2012.0,0.001],[2012.5,0.001],[2013.0,0.001],[2013.5,0.001],[2014.0,0.0005],[2014.75,0.001],[2014.95,0.004],[2015.1,0.002],[2015.5,0.002],[2016.0,0.002],[2016.5,0.001],[2017.0,0.001],[2017.5,0.001],[2018.0,0.0005],[2018.5,0.001],[2018.9,0.001]];
const oilMonthlyBK3: P[] = [[2008.85,0.0005],[2009.5,0.0008],[2010.25,0.001],[2011.0,0.0003],[2012.0,0.0005],[2013.0,0.0004],[2014.0,0.0003],[2014.95,0.001],[2015.5,0.0006],[2016.5,0.0005],[2017.5,0.0004],[2018.9,0.0004]];

// ---------------- QUARTERLY ----------------
const gasQuarterlyDY: P[] = [[2008.85,0.09],[2008.9,0.085],[2008.95,0.065],[2009.0,0.06],[2009.05,0.058],[2009.1,0.075],[2009.15,0.09],[2009.22,0.11],[2009.28,0.13],[2009.33,0.125],[2009.4,0.12],[2009.48,0.12],[2009.55,0.1],[2009.62,0.09],[2009.7,0.085],[2009.8,0.06],[2009.9,0.05],[2010.0,0.05],[2010.1,0.052],[2010.2,0.05],[2010.3,0.055],[2010.4,0.065],[2010.5,0.068],[2010.6,0.07],[2010.7,0.065],[2010.78,0.06],[2010.85,0.045],[2010.92,0.035],[2011.0,0.04],[2011.08,0.045],[2011.15,0.06],[2011.22,0.09],[2011.3,0.1],[2011.38,0.105],[2011.45,0.1],[2011.52,0.095],[2011.6,0.085],[2011.68,0.075],[2011.78,0.07],[2011.88,0.065],[2011.95,0.068],[2012.05,0.08],[2012.15,0.09],[2012.25,0.092],[2012.32,0.08],[2012.4,0.075],[2012.5,0.075],[2012.6,0.07],[2012.68,0.05],[2012.78,0.045],[2012.9,0.042],[2013.0,0.04],[2013.1,0.055],[2013.2,0.06],[2013.3,0.07],[2013.4,0.085],[2013.45,0.092],[2013.52,0.085],[2013.6,0.065],[2013.7,0.06],[2013.8,0.05],[2013.9,0.04],[2013.98,0.03],[2014.05,0.035],[2014.15,0.04],[2014.25,0.038],[2014.35,0.04],[2014.45,0.03],[2014.55,0.025],[2014.65,0.022],[2014.8,0.018],[2014.95,0.018],[2015.05,0.02],[2015.15,0.025],[2015.25,0.035],[2015.4,0.035],[2015.5,0.035],[2015.6,0.045],[2015.7,0.05],[2015.8,0.05],[2015.9,0.055],[2016.0,0.06],[2016.05,0.075],[2016.12,0.08],[2016.2,0.082],[2016.3,0.09],[2016.4,0.11],[2016.48,0.12],[2016.55,0.14],[2016.62,0.155],[2016.68,0.14],[2016.75,0.12],[2016.82,0.125],[2016.9,0.11],[2016.97,0.13],[2017.05,0.14],[2017.15,0.145],[2017.25,0.14],[2017.35,0.135],[2017.5,0.13],[2017.6,0.13],[2017.7,0.12],[2017.8,0.11],[2017.9,0.105],[2017.98,0.1],[2018.05,0.105],[2018.15,0.11],[2018.25,0.12],[2018.35,0.115],[2018.45,0.125],[2018.52,0.1],[2018.58,0.12],[2018.65,0.13],[2018.72,0.125],[2018.8,0.14],[2018.88,0.165],[2018.92,0.16]];
const gasQuarterlyBK1: P[] = [[2008.85,0.068],[2008.92,0.06],[2009.0,0.045],[2009.05,0.05],[2009.12,0.07],[2009.2,0.085],[2009.3,0.09],[2009.4,0.088],[2009.5,0.08],[2009.6,0.065],[2009.7,0.055],[2009.8,0.045],[2009.9,0.04],[2010.0,0.04],[2010.1,0.038],[2010.2,0.035],[2010.3,0.038],[2010.4,0.042],[2010.5,0.048],[2010.6,0.055],[2010.7,0.05],[2010.8,0.04],[2010.88,0.03],[2010.95,0.025],[2011.05,0.04],[2011.15,0.05],[2011.25,0.065],[2011.35,0.075],[2011.45,0.08],[2011.55,0.075],[2011.65,0.07],[2011.75,0.065],[2011.85,0.06],[2011.95,0.06],[2012.05,0.065],[2012.15,0.065],[2012.25,0.06],[2012.35,0.05],[2012.45,0.045],[2012.55,0.045],[2012.65,0.04],[2012.75,0.035],[2012.85,0.032],[2012.95,0.03],[2013.05,0.035],[2013.15,0.045],[2013.25,0.05],[2013.35,0.055],[2013.45,0.06],[2013.55,0.058],[2013.65,0.05],[2013.75,0.045],[2013.85,0.04],[2013.95,0.028],[2014.02,0.022],[2014.1,0.03],[2014.2,0.032],[2014.35,0.03],[2014.5,0.025],[2014.65,0.02],[2014.8,0.012],[2014.95,0.01],[2015.05,0.015],[2015.2,0.022],[2015.35,0.025],[2015.5,0.03],[2015.65,0.035],[2015.8,0.035],[2015.95,0.04],[2016.05,0.05],[2016.15,0.06],[2016.25,0.07],[2016.35,0.075],[2016.45,0.09],[2016.55,0.1],[2016.65,0.09],[2016.75,0.08],[2016.85,0.075],[2016.92,0.065],[2016.98,0.078],[2017.05,0.085],[2017.15,0.09],[2017.3,0.095],[2017.45,0.1],[2017.6,0.098],[2017.72,0.09],[2017.82,0.08],[2017.92,0.075],[2018.0,0.07],[2018.08,0.075],[2018.18,0.085],[2018.3,0.09],[2018.42,0.088],[2018.52,0.075],[2018.6,0.09],[2018.7,0.095],[2018.8,0.105],[2018.9,0.12]];
const gasQuarterlyBK2: P[] = [[2008.85,0.015],[2009.0,0.018],[2009.25,0.025],[2009.5,0.025],[2009.75,0.023],[2010.0,0.022],[2010.25,0.02],[2010.5,0.017],[2010.75,0.017],[2011.0,0.02],[2011.25,0.022],[2011.5,0.025],[2011.75,0.022],[2012.0,0.02],[2012.25,0.018],[2012.5,0.017],[2012.75,0.015],[2013.0,0.015],[2013.25,0.018],[2013.5,0.02],[2013.75,0.015],[2014.0,0.01],[2014.25,0.01],[2014.5,0.009],[2014.75,0.009],[2015.0,0.01],[2015.25,0.012],[2015.5,0.014],[2015.75,0.016],[2016.0,0.018],[2016.25,0.02],[2016.5,0.02],[2016.75,0.022],[2017.0,0.025],[2017.25,0.025],[2017.5,0.024],[2017.75,0.022],[2018.0,0.02],[2018.25,0.022],[2018.5,0.025],[2018.75,0.028],[2018.9,0.03]];
const gasQuarterlyBK3: P[] = [[2008.85,0.005],[2009.5,0.006],[2010.0,0.007],[2010.5,0.006],[2011.0,0.006],[2011.5,0.008],[2012.0,0.008],[2012.5,0.007],[2013.0,0.007],[2013.5,0.007],[2014.0,0.005],[2014.5,0.004],[2015.0,0.004],[2015.5,0.006],[2016.0,0.007],[2016.5,0.008],[2017.0,0.009],[2017.5,0.01],[2018.0,0.009],[2018.5,0.01],[2018.9,0.01]];

const coalQuarterlyDY: P[] = [[2008.85,0.01],[2008.9,0.012],[2008.95,0.015],[2009.0,0.018],[2009.08,0.025],[2009.15,0.03],[2009.2,0.04],[2009.25,0.035],[2009.3,0.05],[2009.35,0.058],[2009.4,0.05],[2009.45,0.048],[2009.55,0.045],[2009.65,0.038],[2009.75,0.04],[2009.85,0.038],[2009.95,0.035],[2010.05,0.04],[2010.15,0.045],[2010.25,0.043],[2010.35,0.04],[2010.45,0.035],[2010.55,0.04],[2010.62,0.05],[2010.68,0.048],[2010.75,0.035],[2010.82,0.03],[2010.9,0.025],[2010.95,0.015],[2011.02,0.03],[2011.1,0.04],[2011.18,0.038],[2011.28,0.033],[2011.38,0.03],[2011.5,0.032],[2011.6,0.028],[2011.7,0.02],[2011.8,0.015],[2011.9,0.012],[2012.0,0.01],[2012.1,0.012],[2012.2,0.014],[2012.3,0.015],[2012.4,0.022],[2012.5,0.023],[2012.6,0.022],[2012.7,0.015],[2012.8,0.013],[2012.9,0.014],[2013.0,0.012],[2013.1,0.015],[2013.2,0.015],[2013.3,0.018],[2013.4,0.022],[2013.48,0.025],[2013.55,0.023],[2013.65,0.02],[2013.75,0.018],[2013.85,0.017],[2013.95,0.016],[2014.1,0.017],[2014.25,0.015],[2014.4,0.014],[2014.55,0.012],[2014.7,0.012],[2014.85,0.01],[2014.95,0.005],[2015.0,0.02],[2015.05,0.028],[2015.15,0.025],[2015.25,0.03],[2015.35,0.03],[2015.45,0.035],[2015.55,0.045],[2015.62,0.055],[2015.7,0.068],[2015.75,0.065],[2015.82,0.055],[2015.9,0.05],[2016.0,0.052],[2016.1,0.05],[2016.18,0.04],[2016.25,0.052],[2016.35,0.055],[2016.42,0.05],[2016.48,0.03],[2016.53,0.015],[2016.6,0.025],[2016.68,0.045],[2016.75,0.055],[2016.82,0.06],[2016.88,0.065],[2016.95,0.075],[2017.02,0.07],[2017.1,0.065],[2017.2,0.068],[2017.35,0.07],[2017.5,0.07],[2017.65,0.072],[2017.8,0.078],[2017.95,0.08],[2018.05,0.085],[2018.15,0.09],[2018.25,0.1],[2018.32,0.105],[2018.38,0.09],[2018.45,0.08],[2018.52,0.075],[2018.6,0.07],[2018.68,0.065],[2018.75,0.06],[2018.82,0.055],[2018.9,0.05]];
const coalQuarterlyBK1: P[] = [[2008.85,0.012],[2008.95,0.013],[2009.05,0.015],[2009.15,0.02],[2009.25,0.025],[2009.35,0.03],[2009.45,0.03],[2009.55,0.028],[2009.65,0.025],[2009.75,0.028],[2009.9,0.028],[2010.05,0.03],[2010.2,0.035],[2010.35,0.038],[2010.5,0.035],[2010.62,0.04],[2010.72,0.035],[2010.82,0.025],[2010.92,0.02],[2010.98,0.012],[2011.05,0.02],[2011.15,0.03],[2011.3,0.028],[2011.45,0.025],[2011.6,0.022],[2011.75,0.015],[2011.9,0.01],[2012.05,0.008],[2012.2,0.01],[2012.35,0.012],[2012.5,0.013],[2012.65,0.012],[2012.8,0.01],[2012.95,0.01],[2013.1,0.012],[2013.25,0.014],[2013.4,0.018],[2013.55,0.02],[2013.7,0.015],[2013.85,0.012],[2014.0,0.012],[2014.2,0.011],[2014.4,0.012],[2014.6,0.01],[2014.8,0.009],[2014.95,0.004],[2015.02,0.018],[2015.15,0.02],[2015.3,0.022],[2015.45,0.025],[2015.6,0.03],[2015.72,0.04],[2015.85,0.038],[2016.0,0.035],[2016.15,0.033],[2016.3,0.035],[2016.42,0.03],[2016.5,0.018],[2016.58,0.015],[2016.65,0.025],[2016.75,0.035],[2016.85,0.04],[2016.95,0.045],[2017.1,0.043],[2017.25,0.045],[2017.4,0.048],[2017.55,0.047],[2017.7,0.05],[2017.85,0.05],[2018.0,0.052],[2018.12,0.055],[2018.22,0.06],[2018.3,0.062],[2018.4,0.055],[2018.5,0.05],[2018.6,0.048],[2018.7,0.045],[2018.8,0.04],[2018.9,0.03]];
const coalQuarterlyBK2: P[] = [[2008.85,0.004],[2009.0,0.005],[2009.25,0.008],[2009.5,0.01],[2009.75,0.01],[2010.0,0.01],[2010.25,0.011],[2010.5,0.012],[2010.75,0.008],[2011.0,0.005],[2011.25,0.006],[2011.5,0.006],[2011.75,0.005],[2012.0,0.004],[2012.25,0.005],[2012.5,0.006],[2012.75,0.006],[2013.0,0.005],[2013.25,0.006],[2013.5,0.007],[2013.75,0.006],[2014.0,0.005],[2014.25,0.005],[2014.5,0.005],[2014.75,0.004],[2015.0,0.004],[2015.25,0.006],[2015.5,0.008],[2015.75,0.01],[2016.0,0.01],[2016.25,0.01],[2016.5,0.005],[2016.75,0.01],[2017.0,0.012],[2017.25,0.014],[2017.5,0.015],[2017.75,0.015],[2018.0,0.016],[2018.25,0.02],[2018.4,0.022],[2018.6,0.018],[2018.9,0.015]];
const coalQuarterlyBK3: P[] = [[2008.85,0.002],[2009.5,0.003],[2010.0,0.004],[2010.5,0.004],[2011.0,0.003],[2011.5,0.003],[2012.0,0.002],[2012.5,0.002],[2013.0,0.002],[2013.5,0.002],[2014.0,0.002],[2014.5,0.002],[2015.0,0.002],[2015.5,0.003],[2016.0,0.003],[2016.5,0.003],[2017.0,0.004],[2017.5,0.004],[2018.0,0.005],[2018.5,0.005],[2018.9,0.005]];

const oilQuarterlyDY: P[] = [[2008.85,0.02],[2008.9,0.03],[2008.95,0.035],[2009.0,0.038],[2009.05,0.05],[2009.1,0.045],[2009.15,0.04],[2009.2,0.045],[2009.25,0.042],[2009.3,0.06],[2009.35,0.05],[2009.4,0.049],[2009.45,0.065],[2009.5,0.066],[2009.6,0.065],[2009.7,0.063],[2009.8,0.062],[2009.9,0.06],[2010.0,0.058],[2010.1,0.055],[2010.2,0.052],[2010.3,0.05],[2010.4,0.045],[2010.5,0.038],[2010.6,0.03],[2010.7,0.025],[2010.78,0.022],[2010.85,0.015],[2010.92,0.014],[2010.97,0.005],[2011.05,0.002],[2011.3,0.003],[2011.6,0.004],[2011.9,0.005],[2012.0,0.007],[2012.2,0.008],[2012.4,0.006],[2012.55,0.003],[2012.65,0.002],[2012.75,0.01],[2012.85,0.013],[2012.95,0.01],[2013.05,0.004],[2013.3,0.004],[2013.6,0.005],[2013.9,0.004],[2014.2,0.003],[2014.5,0.003],[2014.8,0.003],[2014.95,0.005],[2015.0,0.027],[2015.05,0.028],[2015.15,0.022],[2015.25,0.024],[2015.35,0.022],[2015.45,0.015],[2015.5,0.018],[2015.6,0.022],[2015.7,0.025],[2015.8,0.028],[2015.9,0.035],[2016.0,0.045],[2016.08,0.05],[2016.15,0.052],[2016.25,0.048],[2016.35,0.05],[2016.45,0.045],[2016.55,0.042],[2016.65,0.035],[2016.75,0.03],[2016.85,0.028],[2016.95,0.025],[2017.1,0.025],[2017.25,0.024],[2017.4,0.023],[2017.55,0.02],[2017.7,0.012],[2017.85,0.01],[2018.0,0.008],[2018.15,0.008],[2018.3,0.006],[2018.45,0.008],[2018.55,0.012],[2018.62,0.018],[2018.68,0.025],[2018.75,0.02],[2018.82,0.015],[2018.9,0.01]];
const oilQuarterlyBK1: P[] = [[2008.85,0.015],[2008.9,0.02],[2008.95,0.022],[2009.0,0.028],[2009.05,0.025],[2009.1,0.03],[2009.2,0.03],[2009.3,0.045],[2009.38,0.03],[2009.45,0.035],[2009.55,0.045],[2009.65,0.046],[2009.8,0.045],[2009.95,0.042],[2010.1,0.04],[2010.25,0.037],[2010.4,0.033],[2010.55,0.028],[2010.7,0.022],[2010.8,0.018],[2010.9,0.015],[2010.97,0.005],[2011.05,0.002],[2011.4,0.002],[2011.8,0.004],[2012.0,0.005],[2012.3,0.006],[2012.55,0.002],[2012.8,0.008],[2012.95,0.006],[2013.1,0.003],[2013.5,0.004],[2013.9,0.003],[2014.3,0.002],[2014.7,0.002],[2014.95,0.004],[2015.0,0.025],[2015.1,0.022],[2015.25,0.022],[2015.4,0.02],[2015.5,0.016],[2015.6,0.02],[2015.75,0.025],[2015.9,0.03],[2016.0,0.035],[2016.15,0.038],[2016.3,0.04],[2016.45,0.037],[2016.6,0.033],[2016.75,0.028],[2016.9,0.025],[2017.05,0.02],[2017.2,0.019],[2017.4,0.018],[2017.6,0.015],[2017.75,0.01],[2017.9,0.008],[2018.1,0.007],[2018.3,0.006],[2018.5,0.008],[2018.62,0.012],[2018.7,0.015],[2018.8,0.012],[2018.9,0.008]];
const oilQuarterlyBK2: P[] = [[2008.85,0.002],[2009.0,0.005],[2009.25,0.01],[2009.5,0.013],[2009.75,0.014],[2010.0,0.015],[2010.25,0.013],[2010.5,0.01],[2010.75,0.007],[2011.0,0.002],[2011.5,0.002],[2012.0,0.002],[2012.5,0.002],[2013.0,0.002],[2013.5,0.002],[2014.0,0.002],[2014.5,0.002],[2015.0,0.003],[2015.25,0.004],[2015.5,0.005],[2015.75,0.007],[2016.0,0.008],[2016.25,0.009],[2016.5,0.01],[2016.75,0.009],[2017.0,0.008],[2017.25,0.007],[2017.5,0.006],[2017.75,0.005],[2018.0,0.004],[2018.25,0.004],[2018.5,0.004],[2018.75,0.005],[2018.9,0.005]];
const oilQuarterlyBK3: P[] = [[2008.85,0.002],[2009.25,0.004],[2009.5,0.005],[2010.0,0.005],[2010.5,0.004],[2011.0,0.001],[2011.5,0.001],[2012.0,0.001],[2012.5,0.001],[2013.0,0.001],[2013.5,0.001],[2014.0,0.001],[2014.5,0.001],[2015.0,0.001],[2015.5,0.002],[2016.0,0.003],[2016.5,0.003],[2017.0,0.002],[2017.5,0.002],[2018.0,0.001],[2018.5,0.001],[2018.9,0.002]];

// ---------------- YEARLY ----------------
const gasYearlyDY: P[] = [[2008.85,0.055],[2008.9,0.045],[2008.95,0.025],[2009.0,0.02],[2009.05,0.03],[2009.12,0.055],[2009.2,0.07],[2009.28,0.088],[2009.33,0.08],[2009.4,0.08],[2009.5,0.075],[2009.6,0.07],[2009.7,0.068],[2009.8,0.062],[2009.95,0.06],[2010.1,0.058],[2010.25,0.06],[2010.35,0.062],[2010.45,0.08],[2010.55,0.098],[2010.62,0.105],[2010.7,0.095],[2010.8,0.085],[2010.9,0.078],[2010.97,0.082],[2011.05,0.1],[2011.12,0.125],[2011.2,0.14],[2011.28,0.155],[2011.35,0.16],[2011.42,0.175],[2011.48,0.195],[2011.53,0.205],[2011.6,0.19],[2011.68,0.185],[2011.75,0.18],[2011.82,0.165],[2011.9,0.15],[2011.97,0.16],[2012.03,0.13],[2012.1,0.135],[2012.2,0.13],[2012.28,0.14],[2012.38,0.148],[2012.48,0.14],[2012.58,0.12],[2012.68,0.1],[2012.78,0.085],[2012.9,0.08],[2013.0,0.078],[2013.1,0.082],[2013.2,0.078],[2013.28,0.1],[2013.33,0.125],[2013.38,0.13],[2013.45,0.11],[2013.55,0.085],[2013.65,0.065],[2013.75,0.055],[2013.85,0.05],[2013.95,0.045],[2014.1,0.048],[2014.25,0.055],[2014.4,0.05],[2014.55,0.06],[2014.7,0.06],[2014.85,0.065],[2015.0,0.068],[2015.1,0.075],[2015.2,0.09],[2015.3,0.1],[2015.4,0.105],[2015.5,0.115],[2015.6,0.12],[2015.7,0.125],[2015.8,0.128],[2015.9,0.125],[2015.97,0.11],[2016.02,0.128],[2016.1,0.13],[2016.18,0.145],[2016.25,0.16],[2016.3,0.168],[2016.38,0.155],[2016.45,0.13],[2016.52,0.135],[2016.6,0.12],[2016.7,0.13],[2016.8,0.14],[2016.9,0.135],[2017.0,0.15],[2017.1,0.145],[2017.2,0.155],[2017.35,0.16],[2017.5,0.158],[2017.6,0.15],[2017.7,0.155],[2017.8,0.145],[2017.9,0.135],[2018.0,0.12],[2018.08,0.13],[2018.2,0.14],[2018.3,0.15],[2018.4,0.155],[2018.5,0.16],[2018.58,0.17],[2018.65,0.165],[2018.72,0.18],[2018.8,0.185],[2018.88,0.2],[2018.92,0.205]];
const gasYearlyBK1: P[] = [[2008.85,0.04],[2008.92,0.035],[2009.0,0.02],[2009.08,0.03],[2009.15,0.05],[2009.25,0.058],[2009.35,0.055],[2009.45,0.045],[2009.6,0.042],[2009.8,0.04],[2010.0,0.04],[2010.2,0.042],[2010.35,0.045],[2010.5,0.06],[2010.62,0.072],[2010.72,0.075],[2010.82,0.062],[2010.9,0.048],[2010.97,0.052],[2011.05,0.07],[2011.15,0.08],[2011.25,0.09],[2011.32,0.1],[2011.4,0.13],[2011.45,0.155],[2011.52,0.16],[2011.6,0.155],[2011.68,0.13],[2011.75,0.125],[2011.85,0.12],[2011.95,0.1],[2012.05,0.11],[2012.15,0.1],[2012.25,0.11],[2012.35,0.1],[2012.45,0.085],[2012.55,0.075],[2012.65,0.07],[2012.8,0.065],[2012.95,0.06],[2013.1,0.062],[2013.2,0.065],[2013.28,0.085],[2013.35,0.095],[2013.45,0.09],[2013.55,0.075],[2013.7,0.06],[2013.85,0.045],[2013.95,0.035],[2014.05,0.03],[2014.15,0.035],[2014.3,0.042],[2014.5,0.04],[2014.65,0.045],[2014.85,0.045],[2015.0,0.055],[2015.15,0.06],[2015.3,0.068],[2015.45,0.075],[2015.6,0.08],[2015.75,0.082],[2015.9,0.085],[2015.97,0.06],[2016.03,0.08],[2016.1,0.09],[2016.2,0.1],[2016.28,0.12],[2016.35,0.11],[2016.45,0.095],[2016.55,0.09],[2016.65,0.085],[2016.75,0.095],[2016.85,0.088],[2016.95,0.1],[2017.1,0.105],[2017.25,0.11],[2017.4,0.105],[2017.55,0.11],[2017.7,0.1],[2017.85,0.095],[2017.95,0.085],[2018.05,0.095],[2018.2,0.105],[2018.35,0.115],[2018.5,0.12],[2018.6,0.125],[2018.7,0.13],[2018.8,0.14],[2018.9,0.155]];
const gasYearlyBK2: P[] = [[2008.85,0.012],[2009.0,0.01],[2009.25,0.018],[2009.5,0.02],[2009.75,0.02],[2010.0,0.02],[2010.25,0.022],[2010.5,0.025],[2010.75,0.022],[2011.0,0.018],[2011.25,0.022],[2011.5,0.03],[2011.75,0.028],[2012.0,0.025],[2012.25,0.024],[2012.5,0.022],[2012.75,0.02],[2013.0,0.02],[2013.25,0.022],[2013.5,0.025],[2013.75,0.02],[2014.0,0.015],[2014.25,0.014],[2014.5,0.013],[2014.75,0.013],[2015.0,0.012],[2015.25,0.014],[2015.5,0.017],[2015.75,0.018],[2016.0,0.02],[2016.25,0.028],[2016.5,0.03],[2016.75,0.026],[2017.0,0.025],[2017.25,0.026],[2017.5,0.027],[2017.75,0.025],[2018.0,0.024],[2018.25,0.028],[2018.5,0.03],[2018.75,0.035],[2018.9,0.04]];
const gasYearlyBK3: P[] = [[2008.85,0.004],[2009.0,0.004],[2009.5,0.006],[2010.0,0.007],[2010.5,0.008],[2011.0,0.007],[2011.5,0.009],[2012.0,0.01],[2012.5,0.009],[2013.0,0.009],[2013.5,0.009],[2014.0,0.006],[2014.5,0.005],[2015.0,0.005],[2015.5,0.006],[2016.0,0.007],[2016.5,0.009],[2017.0,0.01],[2017.5,0.01],[2018.0,0.011],[2018.5,0.013],[2018.9,0.015]];

const coalYearlyDY: P[] = [[2008.85,0.068],[2008.88,0.1],[2008.92,0.07],[2008.97,0.095],[2009.02,0.065],[2009.1,0.075],[2009.2,0.085],[2009.3,0.088],[2009.4,0.085],[2009.5,0.09],[2009.6,0.085],[2009.75,0.088],[2009.9,0.085],[2010.05,0.088],[2010.15,0.085],[2010.22,0.09],[2010.28,0.115],[2010.33,0.1],[2010.4,0.105],[2010.45,0.09],[2010.55,0.1],[2010.65,0.095],[2010.75,0.1],[2010.85,0.092],[2010.95,0.1],[2011.05,0.095],[2011.15,0.098],[2011.3,0.09],[2011.45,0.088],[2011.6,0.085],[2011.7,0.075],[2011.75,0.05],[2011.8,0.035],[2011.9,0.03],[2012.0,0.028],[2012.1,0.032],[2012.2,0.035],[2012.35,0.033],[2012.45,0.025],[2012.55,0.018],[2012.65,0.01],[2012.75,0.005],[2012.85,0.008],[2012.95,0.015],[2013.05,0.02],[2013.15,0.025],[2013.25,0.032],[2013.35,0.038],[2013.45,0.035],[2013.55,0.03],[2013.7,0.033],[2013.85,0.03],[2014.0,0.035],[2014.15,0.038],[2014.3,0.033],[2014.45,0.036],[2014.6,0.04],[2014.75,0.035],[2014.9,0.038],[2014.97,0.028],[2015.05,0.04],[2015.2,0.045],[2015.35,0.05],[2015.45,0.055],[2015.55,0.07],[2015.62,0.09],[2015.68,0.105],[2015.75,0.1],[2015.82,0.08],[2015.92,0.07],[2016.0,0.065],[2016.1,0.07],[2016.2,0.065],[2016.3,0.06],[2016.38,0.04],[2016.45,0.025],[2016.5,0.02],[2016.57,0.04],[2016.65,0.06],[2016.72,0.08],[2016.8,0.1],[2016.85,0.105],[2016.92,0.09],[2017.0,0.09],[2017.15,0.092],[2017.3,0.095],[2017.45,0.1],[2017.6,0.105],[2017.75,0.11],[2017.9,0.12],[2018.0,0.125],[2018.1,0.14],[2018.18,0.15],[2018.25,0.165],[2018.3,0.172],[2018.38,0.155],[2018.45,0.15],[2018.52,0.14],[2018.6,0.135],[2018.66,0.1],[2018.72,0.115],[2018.8,0.09],[2018.9,0.08]];
const coalYearlyBK1: P[] = [[2008.85,0.06],[2008.9,0.05],[2008.95,0.065],[2009.0,0.05],[2009.05,0.068],[2009.2,0.068],[2009.4,0.07],[2009.6,0.068],[2009.8,0.065],[2010.0,0.068],[2010.2,0.07],[2010.28,0.05],[2010.35,0.065],[2010.45,0.06],[2010.55,0.068],[2010.7,0.06],[2010.85,0.068],[2011.0,0.062],[2011.2,0.068],[2011.4,0.065],[2011.6,0.07],[2011.7,0.065],[2011.78,0.04],[2011.85,0.025],[2011.95,0.02],[2012.05,0.028],[2012.2,0.03],[2012.35,0.028],[2012.5,0.02],[2012.65,0.01],[2012.75,0.005],[2012.9,0.01],[2013.05,0.018],[2013.2,0.022],[2013.35,0.03],[2013.5,0.028],[2013.65,0.032],[2013.8,0.028],[2013.95,0.03],[2014.1,0.032],[2014.3,0.028],[2014.5,0.03],[2014.7,0.03],[2014.9,0.032],[2014.97,0.022],[2015.05,0.03],[2015.2,0.035],[2015.35,0.04],[2015.5,0.05],[2015.6,0.06],[2015.68,0.07],[2015.75,0.075],[2015.85,0.065],[2015.95,0.058],[2016.1,0.052],[2016.25,0.05],[2016.35,0.04],[2016.45,0.025],[2016.5,0.02],[2016.6,0.035],[2016.7,0.045],[2016.8,0.055],[2016.9,0.06],[2017.0,0.058],[2017.2,0.06],[2017.4,0.065],[2017.6,0.07],[2017.8,0.075],[2018.0,0.08],[2018.1,0.085],[2018.2,0.095],[2018.28,0.12],[2018.35,0.11],[2018.45,0.1],[2018.55,0.095],[2018.65,0.09],[2018.75,0.075],[2018.85,0.06],[2018.92,0.055]];
const coalYearlyBK2: P[] = [[2008.85,0.01],[2009.0,0.012],[2009.25,0.015],[2009.5,0.016],[2009.75,0.017],[2010.0,0.02],[2010.25,0.022],[2010.5,0.025],[2010.75,0.02],[2011.0,0.02],[2011.25,0.02],[2011.5,0.02],[2011.75,0.018],[2012.0,0.015],[2012.25,0.013],[2012.5,0.01],[2012.75,0.005],[2013.0,0.007],[2013.25,0.01],[2013.5,0.01],[2013.75,0.009],[2014.0,0.008],[2014.25,0.009],[2014.5,0.008],[2014.75,0.009],[2015.0,0.008],[2015.25,0.01],[2015.5,0.012],[2015.75,0.014],[2016.0,0.012],[2016.25,0.01],[2016.5,0.008],[2016.75,0.012],[2017.0,0.015],[2017.25,0.017],[2017.5,0.02],[2017.75,0.022],[2018.0,0.025],[2018.25,0.032],[2018.4,0.035],[2018.6,0.028],[2018.9,0.02]];
const coalYearlyBK3: P[] = [[2008.85,0.003],[2009.5,0.004],[2010.0,0.005],[2010.5,0.006],[2011.0,0.006],[2011.5,0.006],[2012.0,0.005],[2012.5,0.004],[2013.0,0.003],[2013.5,0.003],[2014.0,0.003],[2014.5,0.003],[2015.0,0.003],[2015.5,0.004],[2016.0,0.004],[2016.5,0.004],[2017.0,0.005],[2017.5,0.006],[2018.0,0.007],[2018.5,0.009],[2018.9,0.007]];

const oilYearlyDY: P[] = [[2008.85,0.1],[2008.9,0.15],[2008.95,0.19],[2009.0,0.205],[2009.05,0.2],[2009.1,0.175],[2009.15,0.17],[2009.22,0.15],[2009.3,0.128],[2009.38,0.135],[2009.45,0.14],[2009.6,0.142],[2009.75,0.145],[2009.9,0.14],[2010.0,0.142],[2010.1,0.135],[2010.2,0.125],[2010.3,0.11],[2010.4,0.1],[2010.5,0.095],[2010.6,0.09],[2010.68,0.085],[2010.73,0.06],[2010.78,0.09],[2010.83,0.065],[2010.9,0.04],[2010.95,0.015],[2011.0,0.008],[2011.2,0.01],[2011.4,0.012],[2011.6,0.012],[2011.8,0.015],[2012.0,0.02],[2012.2,0.025],[2012.4,0.028],[2012.6,0.03],[2012.75,0.035],[2012.85,0.07],[2012.9,0.075],[2012.95,0.06],[2013.05,0.05],[2013.2,0.045],[2013.35,0.04],[2013.5,0.045],[2013.6,0.042],[2013.7,0.035],[2013.8,0.03],[2014.0,0.028],[2014.2,0.025],[2014.4,0.028],[2014.6,0.025],[2014.8,0.028],[2014.95,0.04],[2015.05,0.035],[2015.2,0.04],[2015.35,0.045],[2015.45,0.04],[2015.55,0.05],[2015.65,0.075],[2015.75,0.09],[2015.85,0.1],[2015.95,0.11],[2016.05,0.122],[2016.12,0.118],[2016.2,0.1],[2016.3,0.095],[2016.4,0.09],[2016.5,0.085],[2016.6,0.08],[2016.7,0.07],[2016.8,0.06],[2016.9,0.045],[2017.0,0.04],[2017.15,0.035],[2017.3,0.033],[2017.45,0.03],[2017.6,0.025],[2017.75,0.02],[2017.9,0.018],[2018.05,0.015],[2018.2,0.018],[2018.35,0.02],[2018.5,0.025],[2018.6,0.035],[2018.67,0.045],[2018.75,0.035],[2018.85,0.028],[2018.92,0.022]];
const oilYearlyBK1: P[] = [[2008.85,0.07],[2008.9,0.1],[2008.95,0.14],[2009.0,0.135],[2009.05,0.11],[2009.12,0.1],[2009.2,0.085],[2009.3,0.082],[2009.4,0.09],[2009.5,0.095],[2009.7,0.098],[2009.9,0.095],[2010.1,0.09],[2010.25,0.08],[2010.4,0.07],[2010.55,0.065],[2010.65,0.06],[2010.72,0.045],[2010.78,0.06],[2010.85,0.04],[2010.92,0.02],[2011.0,0.005],[2011.2,0.007],[2011.5,0.008],[2011.8,0.012],[2012.0,0.018],[2012.3,0.02],[2012.6,0.025],[2012.8,0.03],[2012.88,0.05],[2012.95,0.045],[2013.1,0.035],[2013.3,0.035],[2013.5,0.03],[2013.7,0.032],[2013.9,0.025],[2014.1,0.022],[2014.4,0.025],[2014.7,0.022],[2014.95,0.03],[2015.1,0.028],[2015.3,0.035],[2015.45,0.04],[2015.55,0.05],[2015.65,0.06],[2015.75,0.08],[2015.85,0.085],[2015.95,0.09],[2016.05,0.088],[2016.15,0.085],[2016.3,0.08],[2016.45,0.075],[2016.6,0.065],[2016.75,0.05],[2016.9,0.04],[2017.05,0.033],[2017.2,0.03],[2017.4,0.025],[2017.6,0.02],[2017.8,0.015],[2018.0,0.013],[2018.2,0.015],[2018.4,0.018],[2018.55,0.022],[2018.7,0.03],[2018.8,0.025],[2018.92,0.022]];
const oilYearlyBK2: P[] = [[2008.85,0.025],[2008.95,0.04],[2009.05,0.045],[2009.25,0.04],[2009.5,0.035],[2009.75,0.035],[2010.0,0.032],[2010.25,0.03],[2010.5,0.025],[2010.75,0.018],[2011.0,0.008],[2011.25,0.008],[2011.5,0.009],[2011.75,0.01],[2012.0,0.012],[2012.25,0.012],[2012.5,0.013],[2012.75,0.014],[2013.0,0.016],[2013.25,0.013],[2013.5,0.012],[2013.75,0.011],[2014.0,0.01],[2014.25,0.01],[2014.5,0.01],[2014.75,0.01],[2015.0,0.011],[2015.25,0.012],[2015.5,0.015],[2015.75,0.02],[2016.0,0.022],[2016.25,0.02],[2016.5,0.016],[2016.75,0.013],[2017.0,0.011],[2017.25,0.01],[2017.5,0.009],[2017.75,0.008],[2018.0,0.008],[2018.25,0.01],[2018.5,0.012],[2018.75,0.015],[2018.9,0.014]];
const oilYearlyBK3: P[] = [[2008.85,0.01],[2009.0,0.014],[2009.25,0.015],[2009.5,0.013],[2010.0,0.011],[2010.5,0.009],[2011.0,0.004],[2011.5,0.004],[2012.0,0.004],[2012.5,0.005],[2013.0,0.005],[2013.5,0.005],[2014.0,0.004],[2014.5,0.004],[2015.0,0.004],[2015.5,0.006],[2016.0,0.008],[2016.5,0.007],[2017.0,0.005],[2017.5,0.004],[2018.0,0.004],[2018.5,0.005],[2018.9,0.006]];

// ---------------- panel definitions ----------------
const col1 = (rows: R3[]): P[] => rows.map((r) => [r[0], r[1]] as P);
const col2 = (rows: R3[]): P[] => rows.map((r) => [r[0], r[2]] as P);

interface PanelDef {
  caption: string;
  row: number;
  col: number;
  series: P[][];
  yMin: number;
  yMax: number;
  ticks: number[];
  dec: number;
}

const PANELS: PanelDef[] = [
  { caption: "(a) gas to electricity spot", row: 0, col: 0, series: [col1(gasSpotRows), col2(gasSpotRows), gasSpotBK2, gasSpotBK3], yMin: -0.0024, yMax: 0.0532, ticks: TICKS_GAS_SPOT, dec: 2 },
  { caption: "(b) coal to electricity spot", row: 1, col: 0, series: [col1(coalSpotRows), col2(coalSpotRows), coalSpotBK2, coalSpotBK3], yMin: -0.0017, yMax: 0.0445, ticks: TICKS_COAL_SPOT, dec: 2 },
  { caption: "(c) oil to electricity spot", row: 2, col: 0, series: [col1(oilSpotRows), col2(oilSpotRows), oilSpotBK2, oilSpotBK3], yMin: -0.0038, yMax: 0.0932, ticks: TICKS_OIL_SPOT, dec: 3 },
  { caption: "(a) gas to electricity monthly futures", row: 0, col: 1, series: [gasMonthlyDY, gasMonthlyBK1, gasMonthlyBK2, gasMonthlyBK3], yMin: -0.008, yMax: 0.18, ticks: TICKS_GAS_MONTHLY, dec: 2 },
  { caption: "(b) coal to electricity monthly futures", row: 1, col: 1, series: [coalMonthlyDY, coalMonthlyBK1, coalMonthlyBK2, coalMonthlyBK3], yMin: -0.0058, yMax: 0.154, ticks: TICKS_COAL_MONTHLY, dec: 2 },
  { caption: "(c) oil to electricity monthly futures", row: 2, col: 1, series: [oilMonthlyDY, oilMonthlyBK1, oilMonthlyBK2, oilMonthlyBK3], yMin: -0.0021, yMax: 0.0453, ticks: TICKS_OIL_MONTHLY, dec: 2 },
  { caption: "(a) gas to electricity quarterly futures", row: 0, col: 2, series: [gasQuarterlyDY, gasQuarterlyBK1, gasQuarterlyBK2, gasQuarterlyBK3], yMin: -0.0073, yMax: 0.18, ticks: TICKS_GAS_QUARTERLY, dec: 2 },
  { caption: "(b) coal to electricity quarterly futures", row: 1, col: 2, series: [coalQuarterlyDY, coalQuarterlyBK1, coalQuarterlyBK2, coalQuarterlyBK3], yMin: -0.0055, yMax: 0.1114, ticks: TICKS_COAL_QUARTERLY, dec: 3 },
  { caption: "(c) oil to electricity quarterly futures", row: 2, col: 2, series: [oilQuarterlyDY, oilQuarterlyBK1, oilQuarterlyBK2, oilQuarterlyBK3], yMin: -0.0031, yMax: 0.0679, ticks: TICKS_OIL_QUARTERLY, dec: 2 },
  { caption: "(a) gas to electricity yearly futures", row: 0, col: 3, series: [gasYearlyDY, gasYearlyBK1, gasYearlyBK2, gasYearlyBK3], yMin: -0.0103, yMax: 0.2278, ticks: TICKS_GAS_YEARLY, dec: 2 },
  { caption: "(b) coal to electricity yearly futures", row: 1, col: 3, series: [coalYearlyDY, coalYearlyBK1, coalYearlyBK2, coalYearlyBK3], yMin: -0.0068, yMax: 0.1806, ticks: TICKS_COAL_YEARLY, dec: 2 },
  { caption: "(c) oil to electricity yearly futures", row: 2, col: 3, series: [oilYearlyDY, oilYearlyBK1, oilYearlyBK2, oilYearlyBK3], yMin: -0.0091, yMax: 0.2206, ticks: TICKS_OIL_YEARLY, dec: 2 },
];

// ---------------- layout (landscape coordinates, rotated at the end) ----------------
const FONT = "'Liberation Sans', Arial, Helvetica, sans-serif";
const FRAME_W = 330;
const FRAME_H = 215;
const COL_X = [27, 386, 745, 1105];
const ROW_Y = [20, 267, 514];
const AX_L = 44;
const AX_B = 22;
const PAD_T = 3;
const PAD_R = 4;
const CANVAS_W = AX_L + FRAME_W + PAD_R;
const CANVAS_H = PAD_T + FRAME_H + AX_B;

const GRID_MAJOR = "#e4e4e4";
const GRID_MINOR = "#f1f1f1";
const TICK_COLOR = "#b0b0b0";
const TEXT_COLOR = "#4d4d4d";

function near(a: number, b: number) {
  return Math.abs(a - b) < 1e-7;
}

function valueTicks(major: number[], min: number, max: number) {
  const step = major[1] - major[0];
  const out: { value: number }[] = [];
  for (let k = -2; k <= major.length * 2 + 2; k++) {
    const v = +(major[0] + (k * step) / 2).toFixed(8);
    if (v >= min && v <= max) out.push({ value: v });
  }
  return out;
}

function timeTicks() {
  const out: { value: number }[] = [];
  YEARS.forEach((y) => {
    if (y - 0.5 >= TIME_MIN) out.push({ value: y - 0.5 });
    if (y <= TIME_MAX) out.push({ value: y });
  });
  return out;
}

const framePlugin = {
  id: "panelFrame",
  afterDatasetsDraw(chart: any) {
    const { ctx, chartArea: a } = chart;
    ctx.save();
    ctx.strokeStyle = "#a9a9a9";
    ctx.lineWidth = 1;
    ctx.strokeRect(Math.round(a.left) - 0.5, Math.round(a.top) - 0.5, Math.round(a.width) + 1, Math.round(a.height) + 1);
    ctx.restore();
  },
};

function Panel({ def }: { def: PanelDef }) {
  const ref = useRef<HTMLCanvasElement>(null);
  useEffect(() => {
    const canvas = ref.current;
    if (!canvas) return;
    const isMajorY = (v: number) => def.ticks.some((t) => near(t, v));
    const isMajorX = (v: number) => YEARS.some((t) => near(t, v));
    const chart = new Chart(canvas, {
      type: "line",
      data: {
        datasets: def.series.map((s, i) => ({
          label: SERIES_NAMES[i],
          data: s.map(([x, y]) => ({ x, y })),
          borderColor: SERIES_COLORS[i],
          borderWidth: SERIES_WIDTHS[i],
          borderDash: SERIES_DASHES[i],
          pointRadius: 0,
          pointHoverRadius: 0,
          fill: false,
          tension: 0,
          order: 4 - i,
        })),
      },
      options: {
        animation: false,
        responsive: false,
        maintainAspectRatio: false,
        devicePixelRatio: 1,
        parsing: false,
        normalized: true,
        events: [],
        layout: { padding: { top: PAD_T, right: PAD_R, left: 0, bottom: 0 } },
        plugins: { legend: { display: false }, tooltip: { enabled: false }, title: { display: false } },
        scales: {
          x: {
            type: "linear",
            min: TIME_MIN,
            max: TIME_MAX,
            afterBuildTicks: (ax: any) => {
              ax.ticks = timeTicks();
            },
            afterFit: (ax: any) => {
              ax.height = AX_B;
            },
            border: { display: false },
            grid: {
              color: (c: any) => (c.tick && isMajorX(c.tick.value) ? GRID_MAJOR : GRID_MINOR),
              lineWidth: 1,
              drawTicks: true,
              tickLength: 3,
              tickColor: (c: any) => (c.tick && isMajorX(c.tick.value) ? TICK_COLOR : "rgba(0,0,0,0)"),
            },
            ticks: {
              autoSkip: false,
              maxRotation: 0,
              minRotation: 0,
              padding: 0,
              color: TEXT_COLOR,
              font: { family: FONT, size: 8.8 },
              callback: (v: any) => (isMajorX(Number(v)) ? String(Math.round(Number(v))) : ""),
            },
          },
          y: {
            type: "linear",
            min: def.yMin,
            max: def.yMax,
            afterBuildTicks: (ax: any) => {
              ax.ticks = valueTicks(def.ticks, def.yMin, def.yMax);
            },
            afterFit: (ax: any) => {
              ax.width = AX_L;
            },
            border: { display: false },
            grid: {
              color: (c: any) => (c.tick && isMajorY(c.tick.value) ? GRID_MAJOR : GRID_MINOR),
              lineWidth: 1,
              drawTicks: true,
              tickLength: 3,
              tickColor: (c: any) => (c.tick && isMajorY(c.tick.value) ? TICK_COLOR : "rgba(0,0,0,0)"),
            },
            ticks: {
              autoSkip: false,
              padding: 2,
              color: TEXT_COLOR,
              font: { family: FONT, size: 8.8 },
              callback: (v: any) => (isMajorY(Number(v)) ? Number(v).toFixed(def.dec) : ""),
            },
          },
        },
      },
      plugins: [framePlugin],
    } as any);
    return () => chart.destroy();
  }, [def]);

  const fx = COL_X[def.col];
  const fy = ROW_Y[def.row];
  return (
    <>
      <div
        style={{
          position: "absolute",
          left: fx - 16,
          top: fy - 16,
          width: FRAME_W,
          height: 14,
          lineHeight: "14px",
          textAlign: "center",
          fontSize: 10.5,
          color: "#222",
          fontFamily: FONT,
          whiteSpace: "nowrap",
        }}
      >
        {def.caption}
      </div>
      <canvas
        ref={ref}
        width={CANVAS_W}
        height={CANVAS_H}
        style={{ position: "absolute", left: fx - AX_L, top: fy - PAD_T, width: CANVAS_W, height: CANVAS_H }}
      />
    </>
  );
}

function LegendKey({ i }: { i: number }) {
  const dash = SERIES_DASHES[i].length ? SERIES_DASHES[i].join(" ") : undefined;
  return (
    <svg width={10} height={11} style={{ display: "block", flex: "none" }}>
      <line x1={0.5} y1={5.5} x2={9.5} y2={5.5} stroke={SERIES_COLORS[i]} strokeWidth={SERIES_WIDTHS[i]} strokeDasharray={dash} />
    </svg>
  );
}

function Legend() {
  return (
    <div style={{ position: "absolute", left: COL_X[0] + 60, top: ROW_Y[0] + 6.5, fontFamily: FONT, fontSize: 9.3, color: "#1a1a1a" }}>
      {SERIES_NAMES.map((name, i) => (
        <div key={i} style={{ display: "flex", alignItems: "center", height: 11.1, whiteSpace: "nowrap", lineHeight: "11px" }}>
          <LegendKey i={i} />
          <span style={{ marginLeft: 4 }}>{name}</span>
        </div>
      ))}
    </div>
  );
}

export default function App() {
  return (
    <div style={{ position: "absolute", left: 0, top: 0, width: 740, height: 1438, overflow: "hidden", background: "#ffffff" }}>
      <div
        style={{
          position: "absolute",
          left: 0,
          top: 0,
          width: 1438,
          height: 740,
          transformOrigin: "0 0",
          transform: "translateY(1438px) rotate(-90deg)",
          background: "#ffffff",
        }}
      >
        {PANELS.map((p, i) => (
          <Panel key={i} def={p} />
        ))}
        <Legend />
      </div>
    </div>
  );
}
